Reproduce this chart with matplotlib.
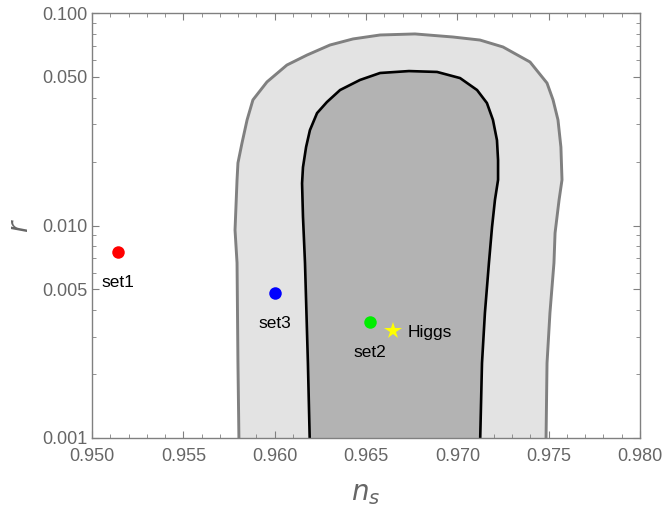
import numpy as np
import matplotlib
matplotlib.use("Agg")
import matplotlib.pyplot as plt
from matplotlib.ticker import MultipleLocator, LogLocator, NullFormatter, FormatStrFormatter

plt.rcParams["font.family"] = ["Liberation Sans", "DejaVu Sans"]

# 2-sigma contour (outer), ns / r
outer_ns = [0.95805, 0.95799, 0.95794, 0.95783, 0.95794, 0.95799, 0.95821, 0.95849,
            0.95881, 0.95958, 0.96067, 0.96177, 0.96303, 0.96429, 0.96577, 0.96768,
            0.96976, 0.97124, 0.97250, 0.97398, 0.97491, 0.97524, 0.97551, 0.97567,
            0.97573, 0.97557, 0.97535, 0.97529, 0.97507, 0.97491, 0.97485]
outer_r = [0.0009, 0.00225, 0.00667, 0.00952, 0.0164, 0.0197, 0.0244, 0.0314,
           0.0390, 0.0474, 0.0569, 0.0634, 0.0707, 0.0755, 0.0788, 0.0797,
           0.0771, 0.0746, 0.0692, 0.0588, 0.0468, 0.0390, 0.0314, 0.0234,
           0.0164, 0.0132, 0.00922, 0.00667, 0.00388, 0.00225, 0.0009]

# 1-sigma contour (inner)
inner_ns = [0.96193, 0.96182, 0.96166, 0.96155, 0.96150, 0.96155, 0.96172, 0.96193,
            0.96232, 0.96286, 0.96358, 0.96467, 0.96577, 0.96735, 0.96889, 0.97015,
            0.97108, 0.97162, 0.97195, 0.97217, 0.97223, 0.97223, 0.97206, 0.97190,
            0.97173, 0.97151, 0.97135, 0.97124]
inner_r = [0.0009, 0.00225, 0.00667, 0.0110, 0.0158, 0.0188, 0.0234, 0.0281,
           0.0338, 0.0381, 0.0434, 0.0484, 0.0522, 0.0533, 0.0528, 0.0494,
           0.0434, 0.0377, 0.0314, 0.0252, 0.0203, 0.0164, 0.0132, 0.00984,
           0.00667, 0.00388, 0.00225, 0.0009]

# benchmark points
set_names = ["set1", "set2", "set3"]
set_ns = [0.9514, 0.9652, 0.9600]
set_r = [0.0075, 0.0035, 0.0048]
set_colors = ["red", "#00ee00", "blue"]
higgs_ns = 0.9665
higgs_r = 0.0032

fig = plt.figure(figsize=(6.64, 5.26), dpi=100)
ax = fig.add_axes([92 / 664, 1 - 438 / 526, 548 / 664, 425 / 526])

ax.fill(outer_ns, outer_r, facecolor="#e3e3e3", edgecolor="#808080", linewidth=2.1,
        joinstyle="round", zorder=1)
ax.fill(inner_ns, inner_r, facecolor="#b3b3b3", edgecolor="black", linewidth=1.9,
        joinstyle="round", zorder=2)

for name, x, y, c in zip(set_names, set_ns, set_r, set_colors):
    ax.plot(x, y, "o", color=c, markersize=9, markeredgewidth=0, zorder=5)
    ax.annotate(name, (x, y), xytext=(0, -22), textcoords="offset points",
                ha="center", va="center", fontsize=12.5, zorder=6)

ax.plot(higgs_ns, higgs_r, "*", color="yellow", markersize=13, markeredgewidth=0, zorder=5)
ax.annotate("Higgs", (higgs_ns, higgs_r), xytext=(10, -1), textcoords="offset points",
            ha="left", va="center", fontsize=12.5, zorder=6)

ax.set_yscale("log")
ax.set_xlim(0.950, 0.980)
ax.set_ylim(0.001, 0.1)

ax.xaxis.set_major_locator(MultipleLocator(0.005))
ax.xaxis.set_minor_locator(MultipleLocator(0.001))
ax.xaxis.set_major_formatter(FormatStrFormatter("%.3f"))

yt = [0.001, 0.005, 0.010, 0.050, 0.100]
ax.set_yticks(yt)
ax.set_yticklabels(["%.3f" % v for v in yt])
ax.yaxis.set_minor_locator(LogLocator(base=10, subs=np.arange(2, 10)))
ax.yaxis.set_minor_formatter(NullFormatter())

gray = "#808080"
for s in ax.spines.values():
    s.set_color(gray)
    s.set_linewidth(1.0)
ax.tick_params(which="both", direction="in", top=True, right=True, color=gray,
               labelcolor="#666666", labelsize=13)
ax.tick_params(which="major", length=5, width=0.8)
ax.tick_params(which="minor", length=3, width=0.6)
ax.tick_params(axis="x", pad=7)

ax.set_xlabel(r"$n_s$", fontsize=20, color="#666666", labelpad=12)
ax.set_ylabel(r"$r$", fontsize=20, color="#666666", labelpad=6)

fig.savefig("out.png", dpi=100)
